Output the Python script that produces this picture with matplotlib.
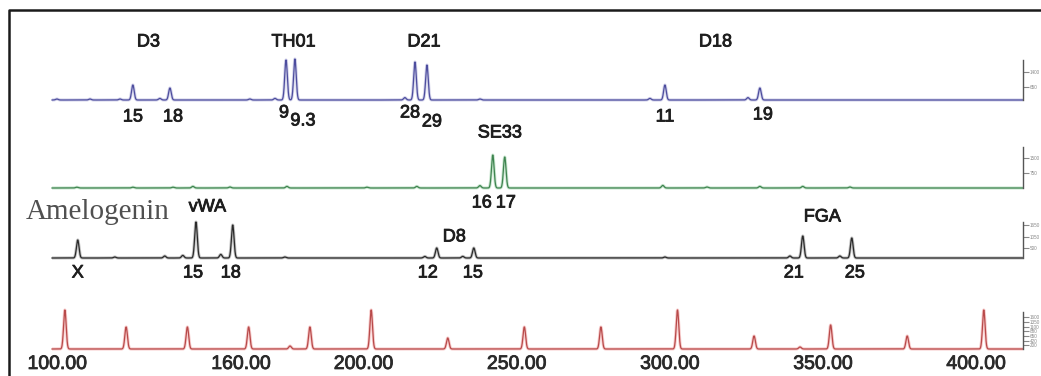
import numpy as np
import matplotlib.pyplot as plt
import matplotlib.patheffects as pe
from matplotlib.lines import Line2D
from matplotlib.transforms import ScaledTranslation

plt.rcParams['font.family'] = ['Liberation Sans', 'DejaVu Sans']

W, H, DPI = 1041, 376, 100

# fragment size axis (bp)
x_lo, x_hi = 95.8, 412.8
bp = np.arange(x_lo, x_hi, 0.05)

# blue dye: D3, TH01, D21, D18
blue_pos = [122.2, 134.3, 172.2, 175.1, 214.3, 218.2, 295.9, 326.9]
blue_hgt = [750, 600, 2000, 2050, 1900, 1750, 750, 600]
blue_alleles = ['15', '18', '9', '9.3', '28', '29', '11', '19']
blue_loci = ['D3', 'TH01', 'D21', 'D18']
blue_minor_pos = [97.4, 108.2, 118.0, 131.0, 160.4, 168.6, 211.0, 235.5, 291.0, 323.0]
blue_minor_hgt = [50, 50, 50, 80, 50, 80, 120, 50, 80, 120]

# green dye: SE33
green_pos = [239.7, 243.6]
green_hgt = [1650, 1550]
green_alleles = ['16', '17']
green_loci = ['SE33']
green_minor_pos = [103.9, 122.2, 135.3, 141.8, 153.9, 172.5, 198.6, 214.9, 235.5,
                   295.2, 309.6, 326.9, 340.9, 356.3]
green_minor_hgt = [40, 40, 40, 80, 50, 80, 40, 80, 120, 130, 50, 80, 80, 50]

# black dye: Amelogenin, vWA, D8, FGA
black_pos = [104.2, 142.8, 154.8, 221.4, 233.5, 340.9, 356.9]
black_hgt = [900, 1800, 1650, 500, 500, 1100, 1000]
black_alleles = ['X', '15', '18', '12', '15', '21', '25']
black_loci = ['vWA', 'D8', 'FGA']
black_minor_pos = [116.3, 132.6, 138.5, 150.9, 171.8, 217.5, 229.9, 295.9, 336.7, 353.0]
black_minor_hgt = [50, 100, 130, 180, 50, 80, 80, 50, 100, 100]

# red dye: size standard
ladder_pos = [100, 120, 140, 160, 180, 200, 225, 250, 275, 300, 325, 350, 375, 400]
ladder_hgt = [1950, 1100, 1100, 1100, 1100, 1950, 550, 1100, 1100, 1950, 650, 1200, 650, 1950]
red_minor_pos = [173.5, 340.0]
red_minor_hgt = [150, 100]
size_ticks = [100, 160, 200, 250, 300, 350, 400]


def trace(pos, hgt, mpos, mhgt, sig=0.42):
    y = np.zeros_like(bp)
    for p, h in zip(list(pos) + list(mpos), list(hgt) + list(mhgt)):
        y += h * np.exp(-0.5 * ((bp - p) / sig) ** 2)
    return y


def fx(x):
    return x / W


def fy(y):
    return 1 - y / H


fig = plt.figure(figsize=(W / DPI, H / DPI), dpi=DPI)
fig.patch.set_facecolor('white')

# open frame (top and left edges only inside the picture)
fig.add_artist(Line2D([fx(8.5), fx(8.5), fx(W)], [fy(390), fy(10), fy(10)],
                      transform=fig.transFigure, color='#1a1a1a', lw=1.8))

left, right = 52, 1023
ax_w = (right - left) / W

channels = [
    dict(base=100, top=50, core='#4d4d9e', halo='#b4b4dc', ymax=2500, stop=2000,
         ticks=[650, 1400], data=(blue_pos, blue_hgt, blue_minor_pos, blue_minor_hgt)),
    dict(base=188, top=138, core='#3f8450', halo='#a6d6b0', ymax=2500, stop=2050,
         ticks=[750, 1500], data=(green_pos, green_hgt, green_minor_pos, green_minor_hgt)),
    dict(base=258, top=208, core='#2a2a2a', halo='#9a9a9a', ymax=2500, stop=1800,
         ticks=[500, 1050, 1650], data=(black_pos, black_hgt, black_minor_pos, black_minor_hgt)),
    dict(base=349, top=299, core='#b84a4a', halo='#f2a8a8', ymax=2500, stop=1850,
         ticks=[200, 420, 650, 880, 1100, 1350, 1600],
         data=(ladder_pos, ladder_hgt, red_minor_pos, red_minor_hgt)),
]

axes = []
for ch in channels:
    ax = fig.add_axes([fx(left), fy(ch['base']), ax_w, (ch['base'] - ch['top']) / H])
    ax.patch.set_alpha(0)
    y = trace(*ch['data'])
    ax.plot(bp, y, color=ch['halo'], lw=2.2, alpha=0.6, clip_on=False, solid_capstyle='butt')
    ax.plot(bp, y, color=ch['core'], lw=0.9, clip_on=False)
    ax.set_xlim(x_lo, x_hi)
    ax.set_ylim(0, ch['ymax'])
    for s in ['top', 'left', 'bottom']:
        ax.spines[s].set_visible(False)
    ax.spines['right'].set_bounds(0, ch['stop'])
    ax.spines['right'].set_color('#555555')
    ax.spines['right'].set_linewidth(1.0)
    ax.yaxis.tick_right()
    ax.set_yticks(ch['ticks'])
    ax.set_yticklabels(['%d' % t for t in ch['ticks']])
    ax.tick_params(axis='y', direction='out', length=4, width=0.8, colors='#888888',
                   labelsize=3.3, pad=1)
    ax.set_xticks([])
    axes.append(ax)

ax_b, ax_g, ax_k, ax_r = axes

heavy = [pe.withStroke(linewidth=0.6, foreground='#1e1e1e')]
lab_kw = dict(textcoords='offset pixels', ha='center', va='center', fontsize=13,
              color='#1e1e1e', annotation_clip=False, path_effects=heavy)

# allele labels: (dx, dy) pixel offsets from each peak foot
blue_off = [(0, -17), (3, -17), (-2, -13), (8, -21), (-5, -13), (5, -22), (0, -17), (3, -15)]
for p, a, o in zip(blue_pos, blue_alleles, blue_off):
    ax_b.annotate(a, xy=(p, 0), xytext=o, **lab_kw)
green_off = [(-11, -15), (1, -15)]
for p, a, o in zip(green_pos, green_alleles, green_off):
    ax_g.annotate(a, xy=(p, 0), xytext=o, **lab_kw)
black_off = [(0, -15), (-3, -15), (-2, -15), (-9, -15), (-1, -15), (-9, -15), (3, -15)]
for p, a, o in zip(black_pos, black_alleles, black_off):
    ax_k.annotate(a, xy=(p, 0), xytext=o, **lab_kw)

# locus labels centred over their allele pairs
blue_pairs = [(0, 1), (2, 3), (4, 5), (6, 7)]
blue_loc_off = [(-3, 58), (3, 58), (3, 58), (3, 58)]
for name, (i, j), o in zip(blue_loci, blue_pairs, blue_loc_off):
    ax_b.annotate(name, xy=((blue_pos[i] + blue_pos[j]) / 2, 0), xytext=o, **lab_kw)
ax_g.annotate(green_loci[0], xy=((green_pos[0] + green_pos[1]) / 2, 0), xytext=(1, 55), **lab_kw)
black_pairs = [(1, 2), (3, 4), (5, 6)]
black_loc_off = [(-7, 51), (-1, 21), (-5, 41)]
for name, (i, j), o in zip(black_loci, black_pairs, black_loc_off):
    ax_k.annotate(name, xy=((black_pos[i] + black_pos[j]) / 2, 0), xytext=o, **lab_kw)

fig.text(fx(26), fy(212), 'Amelogenin', ha='left', va='center', fontsize=21,
         family='Liberation Serif', color='#505050')

# size axis labels under the ladder trace
ax_r.set_xticks(size_ticks)
ax_r.set_xticklabels(['%.2f' % v for v in size_ticks])
ax_r.tick_params(axis='x', length=0, pad=5, labelsize=14, labelcolor='#2a2a2a')
shift = ScaledTranslation(-7.5 / DPI, 0, fig.dpi_scale_trans)
for t in ax_r.get_xticklabels():
    t.set_transform(t.get_transform() + shift)
    t.set_path_effects([pe.withStroke(linewidth=0.6, foreground='#2a2a2a')])

fig.savefig('out.png', dpi=DPI)
